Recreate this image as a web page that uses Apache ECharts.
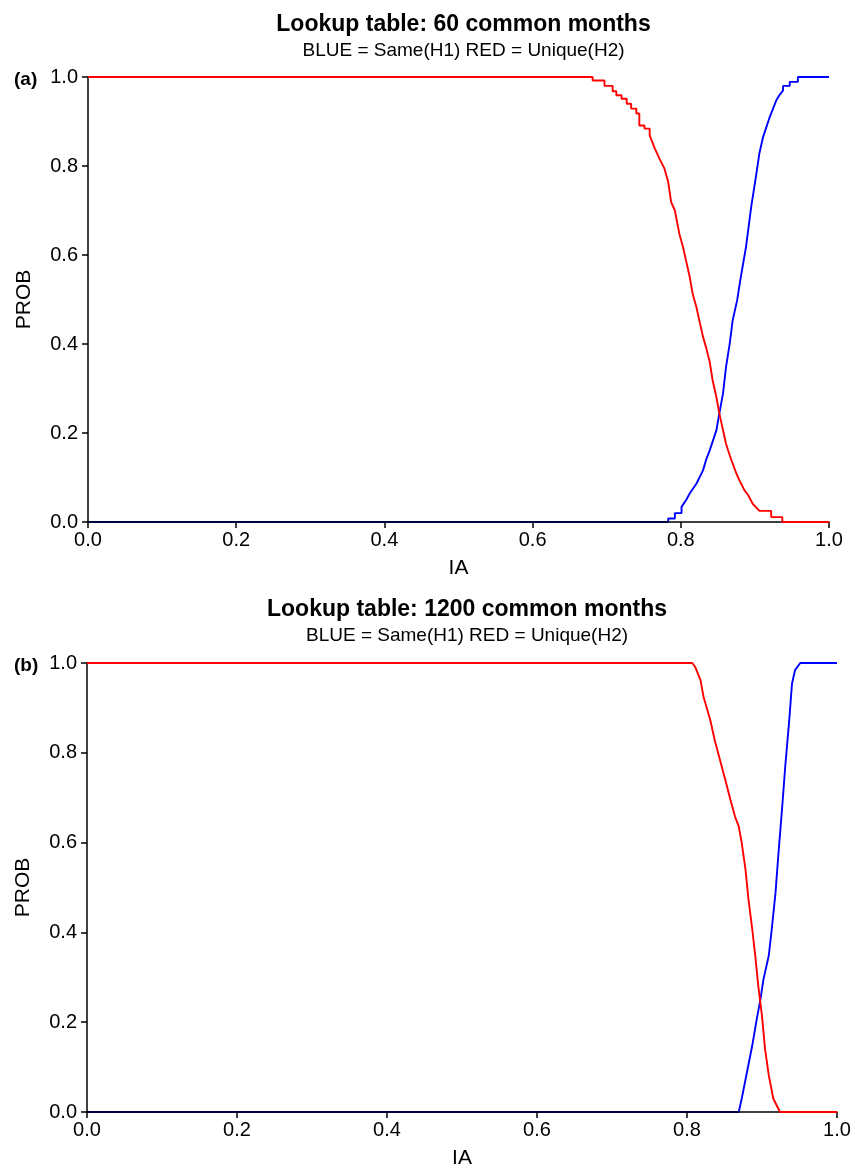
<!DOCTYPE html>
<html>
<head>
<meta charset="utf-8">
<script src="https://cdn.jsdelivr.net/npm/echarts@6/dist/echarts.min.js"></script>
<style>
  html, body { margin: 0; padding: 0; background: #fff; }
  #c { width: 855px; height: 1170px; }
</style>
</head>
<body>
<div id="c"></div>
<script>
(() => {
  "use strict";
  // panel (a): 60 common months  [IA, PROB]; repeated x = a step in the lookup table
  const redA = [[0, 1], [0.681, 1], [0.681, 0.992], [0.697, 0.992], [0.697, 0.980], [0.708, 0.980], [0.708, 0.968],
    [0.713, 0.968], [0.713, 0.959], [0.720, 0.959], [0.720, 0.951], [0.727, 0.951], [0.727, 0.940], [0.733, 0.940],
    [0.733, 0.929], [0.740, 0.929], [0.740, 0.918], [0.744, 0.918], [0.744, 0.891], [0.751, 0.891], [0.751, 0.884],
    [0.758, 0.884], [0.758, 0.869], [0.765, 0.839], [0.771, 0.817], [0.778, 0.794], [0.783, 0.764], [0.787, 0.719],
    [0.792, 0.700], [0.798, 0.648], [0.803, 0.618], [0.807, 0.588], [0.812, 0.551], [0.816, 0.513], [0.821, 0.483],
    [0.825, 0.453], [0.830, 0.416], [0.834, 0.393], [0.839, 0.360], [0.843, 0.318], [0.848, 0.281], [0.852, 0.244],
    [0.857, 0.206], [0.861, 0.176], [0.866, 0.150], [0.870, 0.131], [0.875, 0.109], [0.879, 0.094], [0.886, 0.071],
    [0.891, 0.060], [0.897, 0.041], [0.906, 0.025], [0.922, 0.025], [0.922, 0.011], [0.937, 0.011], [0.937, 0], [1, 0]];
  const blueA = [[0, 0], [0.783, 0], [0.783, 0.008], [0.792, 0.008], [0.792, 0.020], [0.801, 0.020], [0.801, 0.034],
    [0.807, 0.049], [0.812, 0.064], [0.821, 0.086], [0.830, 0.116], [0.834, 0.139], [0.839, 0.161], [0.848, 0.206],
    [0.852, 0.244], [0.857, 0.289], [0.861, 0.348], [0.866, 0.401], [0.870, 0.453], [0.876, 0.498], [0.881, 0.551],
    [0.888, 0.618], [0.895, 0.708], [0.902, 0.783], [0.906, 0.828], [0.911, 0.865], [0.920, 0.910], [0.929, 0.948],
    [0.933, 0.959], [0.938, 0.970], [0.938, 0.980], [0.947, 0.980], [0.947, 0.989], [0.958, 0.989], [0.958, 1], [1, 1]];
  // panel (b): 1200 common months
  const redB = [[0, 1], [0.807, 1], [0.811, 0.991], [0.818, 0.962], [0.822, 0.925], [0.831, 0.873], [0.837, 0.828],
    [0.844, 0.784], [0.851, 0.740], [0.858, 0.695], [0.864, 0.658], [0.869, 0.636], [0.873, 0.599], [0.878, 0.540],
    [0.882, 0.473], [0.887, 0.407], [0.891, 0.348], [0.895, 0.281], [0.900, 0.214], [0.904, 0.141], [0.909, 0.082],
    [0.915, 0.030], [0.924, 0], [1, 0]];
  const blueB = [[0, 0], [0.869, 0], [0.873, 0.030], [0.880, 0.089], [0.887, 0.148], [0.893, 0.207], [0.898, 0.252],
    [0.902, 0.296], [0.909, 0.348], [0.913, 0.407], [0.918, 0.488], [0.922, 0.577], [0.927, 0.681], [0.931, 0.770],
    [0.936, 0.866], [0.940, 0.954], [0.944, 0.984], [0.951, 1], [1, 1]];
  const titles = ["Lookup table: 60 common months", "Lookup table: 1200 common months"];
  const subtitle = "BLUE = Same(H1) RED = Unique(H2)";
  const panels = ["(a)", "(b)"];

  const FONT = "'Liberation Sans', Arial, Helvetica, sans-serif";
  const grids = [
    { left: 88, top: 77, width: 741, height: 445 },
    { left: 87, top: 663, width: 750, height: 450 },
  ];
  const axLine = { show: true, lineStyle: { color: "#000", width: 1.5 } };
  const axTick = { show: true, length: 6, inside: false, lineStyle: { color: "#000", width: 1.5 } };
  const lab = { color: "#000", fontSize: 20, fontFamily: FONT };
  const xAx = i => ({
    type: "value", gridIndex: i, min: 0, max: 1, interval: 0.2, z: 1.5,
    axisLine: axLine, axisTick: axTick, splitLine: { show: false },
    axisLabel: { ...lab, margin: 8, formatter: v => v.toFixed(1) },
    name: "IA", nameLocation: "middle", nameGap: 36, nameTextStyle: { ...lab, fontSize: 21 },
  });
  const yAx = i => ({
    type: "value", gridIndex: i, min: 0, max: 1, interval: 0.2, z: 1.5,
    axisLine: axLine, axisTick: axTick, splitLine: { show: false },
    axisLabel: { ...lab, margin: 10, formatter: v => v.toFixed(1) },
    name: "PROB", nameLocation: "middle", nameGap: 53, nameTextStyle: { ...lab, fontSize: 21 },
  });
  const line = (i, data, color, z) => ({
    type: "line", xAxisIndex: i, yAxisIndex: i, data, z, showSymbol: false, symbol: "none",
    lineStyle: { color, width: 1.9 }, animation: false,
  });
  const titleY = [8, 593];
  const title = [];
  titles.forEach((t, i) => {
    const cx = grids[i].left + grids[i].width / 2;
    title.push({ text: t, left: cx, top: titleY[i], textAlign: "center",
      textStyle: { fontFamily: FONT, fontSize: 23, fontWeight: "bold", color: "#000" } });
    title.push({ text: subtitle, left: cx, top: titleY[i] + 28, textAlign: "center",
      textStyle: { fontFamily: FONT, fontSize: 19, fontWeight: "normal", color: "#000" } });
    title.push({ text: panels[i], left: 9, top: grids[i].top - 12,
      textStyle: { fontFamily: FONT, fontSize: 19, fontWeight: "bold", color: "#000" } });
  });

  const chart = echarts.init(document.getElementById("c"), null, { renderer: "canvas" });
  chart.setOption({
    animation: false,
    title,
    grid: grids,
    xAxis: [xAx(0), xAx(1)],
    yAxis: [yAx(0), yAx(1)],
    series: [
      line(0, blueA, "#0000ff", 1),
      line(0, redA, "#ff0000", 2),
      line(1, blueB, "#0000ff", 1),
      line(1, redB, "#ff0000", 2),
    ],
  });
})();
</script>
</body>
</html>
